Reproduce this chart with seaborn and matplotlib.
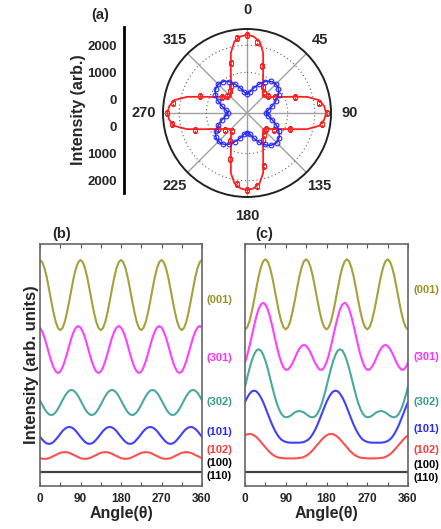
import numpy as np
import matplotlib
matplotlib.use('Agg')
import matplotlib.pyplot as plt
import matplotlib.transforms as mtransforms
import seaborn as sns

# ---------------- panel (a): polar data ----------------
polar_theta = list(range(0, 360, 5))
red_fit = [2390, 2330, 2180, 1800, 1250, 900, 690, 530, 420, 340, 420, 530, 690, 900, 1250, 1800, 2210, 2360,
           2420, 2360, 2210, 1800, 1250, 900, 690, 530, 420, 340, 420, 530, 690, 900, 1250, 1800, 2140, 2290,
           2350, 2290, 2140, 1800, 1250, 900, 690, 530, 420, 340, 420, 530, 690, 900, 1250, 1800, 2230, 2380,
           2440, 2380, 2230, 1800, 1250, 900, 690, 530, 420, 340, 420, 530, 690, 900, 1250, 1800, 2180, 2330]
blue_fit = [200, 240, 330, 450, 580, 720, 840, 930, 990, 1010, 990, 930, 840, 720, 580, 450, 330, 240,
            200, 240, 340, 460, 600, 740, 860, 960, 1020, 1040, 1020, 960, 860, 740, 600, 460, 340, 240,
            210, 250, 330, 450, 570, 710, 830, 920, 970, 980, 970, 920, 830, 710, 570, 450, 330, 250,
            200, 240, 330, 450, 580, 720, 840, 930, 980, 1000, 980, 930, 840, 720, 580, 450, 330, 240]

red_pts_theta = [0, 8, 18, 32, 40, 52, 60, 72, 82, 90, 98, 110, 122, 130, 142, 150, 162, 172,
                 180, 188, 200, 212, 220, 232, 242, 252, 262, 270, 278, 290, 302, 310, 322, 330, 342, 352]
red_pts_r = [2370, 2150, 1330, 640, 450, 500, 700, 1380, 2200, 2440, 2300, 1180, 660, 400, 520, 650, 1550, 2230,
             2330, 2150, 1300, 700, 380, 520, 720, 1500, 2300, 2450, 2250, 1330, 580, 450, 540, 660, 1450, 2280]
blue_pts_theta = [i * 7.5 for i in range(48)]
blue_pts_r = [210, 290, 440, 670, 830, 970, 1000, 950, 850, 640, 460, 280,
              190, 300, 460, 660, 860, 990, 1040, 980, 830, 650, 440, 290,
              220, 280, 450, 640, 830, 950, 980, 960, 840, 660, 450, 270,
              200, 290, 450, 650, 850, 960, 1000, 950, 830, 660, 440, 300]

left_ticks = [2500, 1500, 500, -500, -1500, -2500]
left_ticklabels = ['2000', '1000', '0', '0', '1000', '2000']
theta_labels = ['0', '45', '90', '135', '180', '225', '270', '315']

# ---------------- panels (b) and (c) ----------------
angles = list(range(0, 365, 5))
series_names = ['(001)', '(301)', '(302)', '(101)', '(102)', '(100)', '(110)']
series_colors = ['#a8a03a', '#ff40ff', '#4aa8a0', '#4040ff', '#ff5050', '#404040', '#404040']
label_colors = ['#9a9228', '#ff30ff', '#3a9a92', '#2a2aff', '#ff3a3a', '#000000', '#000000']

b_001 = [9.34, 9.25, 9.00, 8.62, 8.14, 7.64, 7.17, 6.78, 6.53, 6.44, 6.53, 6.78, 7.17, 7.64, 8.14, 8.62, 9.00, 9.25,
         9.34, 9.25, 9.00, 8.62, 8.14, 7.64, 7.17, 6.78, 6.53, 6.44, 6.53, 6.78, 7.17, 7.64, 8.14, 8.62, 9.00, 9.25,
         9.34, 9.25, 9.00, 8.62, 8.14, 7.64, 7.17, 6.78, 6.53, 6.44, 6.53, 6.78, 7.17, 7.64, 8.14, 8.62, 9.00, 9.25,
         9.34, 9.25, 9.00, 8.62, 8.14, 7.64, 7.17, 6.78, 6.53, 6.44, 6.53, 6.78, 7.17, 7.64, 8.14, 8.62, 9.00, 9.25,
         9.34]
b_301 = [6.55, 6.38, 6.13, 5.81, 5.47, 5.16, 4.90, 4.73, 4.67, 4.73, 4.90, 5.16, 5.47, 5.81, 6.13, 6.38, 6.55, 6.61,
         6.55, 6.38, 6.13, 5.81, 5.47, 5.16, 4.90, 4.73, 4.67, 4.73, 4.90, 5.16, 5.47, 5.81, 6.13, 6.38, 6.55, 6.61,
         6.55, 6.38, 6.13, 5.81, 5.47, 5.16, 4.90, 4.73, 4.67, 4.73, 4.90, 5.16, 5.47, 5.81, 6.13, 6.38, 6.55, 6.61,
         6.55, 6.38, 6.13, 5.81, 5.47, 5.16, 4.90, 4.73, 4.67, 4.73, 4.90, 5.16, 5.47, 5.81, 6.13, 6.38, 6.55, 6.61,
         6.55]
b_302 = [3.54, 3.36, 3.19, 3.05, 2.96, 2.93, 2.96, 3.05, 3.19, 3.36, 3.54, 3.71, 3.85, 3.94, 3.97, 3.94, 3.85, 3.71,
         3.54, 3.36, 3.19, 3.05, 2.96, 2.93, 2.96, 3.05, 3.19, 3.36, 3.54, 3.71, 3.85, 3.94, 3.97, 3.94, 3.85, 3.71,
         3.54, 3.36, 3.19, 3.05, 2.96, 2.93, 2.96, 3.05, 3.19, 3.36, 3.54, 3.71, 3.85, 3.94, 3.97, 3.94, 3.85, 3.71,
         3.54, 3.36, 3.19, 3.05, 2.96, 2.93, 2.96, 3.05, 3.19, 3.36, 3.54, 3.71, 3.85, 3.94, 3.97, 3.94, 3.85, 3.71,
         3.54]
b_101 = [2.03, 1.92, 1.82, 1.76, 1.74, 1.76, 1.82, 1.92, 2.03, 2.15, 2.27, 2.36, 2.42, 2.44, 2.42, 2.36, 2.27, 2.15,
         2.03, 1.92, 1.82, 1.76, 1.74, 1.76, 1.82, 1.92, 2.03, 2.15, 2.27, 2.36, 2.42, 2.44, 2.42, 2.36, 2.27, 2.15,
         2.03, 1.92, 1.82, 1.76, 1.74, 1.76, 1.82, 1.92, 2.03, 2.15, 2.27, 2.36, 2.42, 2.44, 2.42, 2.36, 2.27, 2.15,
         2.03, 1.92, 1.82, 1.76, 1.74, 1.76, 1.82, 1.92, 2.03, 2.15, 2.27, 2.36, 2.42, 2.44, 2.42, 2.36, 2.27, 2.15,
         2.03]
b_102 = [1.15, 1.13, 1.12, 1.13, 1.15, 1.19, 1.24, 1.28, 1.33, 1.37, 1.39, 1.40, 1.39, 1.37, 1.33, 1.28, 1.24, 1.19,
         1.15, 1.13, 1.12, 1.13, 1.15, 1.19, 1.24, 1.28, 1.33, 1.37, 1.39, 1.40, 1.39, 1.37, 1.33, 1.28, 1.24, 1.19,
         1.15, 1.13, 1.12, 1.13, 1.15, 1.19, 1.24, 1.28, 1.33, 1.37, 1.39, 1.40, 1.39, 1.37, 1.33, 1.28, 1.24, 1.19,
         1.15, 1.13, 1.12, 1.13, 1.15, 1.19, 1.24, 1.28, 1.33, 1.37, 1.39, 1.40, 1.39, 1.37, 1.33, 1.28, 1.24, 1.19,
         1.15]
b_100 = [0.58] * 73
b_110 = [0.58] * 73

c_001 = [6.47, 6.56, 6.81, 7.20, 7.67, 8.17, 8.65, 9.03, 9.28, 9.37, 9.28, 9.03, 8.65, 8.17, 7.67, 7.20, 6.81, 6.56,
         6.47, 6.56, 6.81, 7.20, 7.67, 8.17, 8.65, 9.03, 9.28, 9.37, 9.28, 9.03, 8.65, 8.17, 7.67, 7.20, 6.81, 6.56,
         6.47, 6.56, 6.81, 7.20, 7.67, 8.17, 8.65, 9.03, 9.28, 9.37, 9.28, 9.03, 8.65, 8.17, 7.67, 7.20, 6.81, 6.56,
         6.47, 6.56, 6.81, 7.20, 7.67, 8.17, 8.65, 9.03, 9.28, 9.37, 9.28, 9.03, 8.65, 8.17, 7.67, 7.20, 6.81, 6.56,
         6.47]
c_301 = [5.11, 5.41, 5.79, 6.20, 6.62, 7.00, 7.31, 7.50, 7.57, 7.50, 7.31, 7.00, 6.62, 6.20, 5.79, 5.41, 5.11, 4.90,
         4.80, 4.81, 4.92, 5.08, 5.29, 5.50, 5.67, 5.79, 5.83, 5.79, 5.67, 5.50, 5.29, 5.08, 4.92, 4.81, 4.80, 4.90,
         5.11, 5.41, 5.79, 6.20, 6.62, 7.00, 7.31, 7.50, 7.57, 7.50, 7.31, 7.00, 6.62, 6.20, 5.79, 5.41, 5.11, 4.90,
         4.80, 4.81, 4.92, 5.08, 5.29, 5.50, 5.67, 5.79, 5.83, 5.79, 5.67, 5.50, 5.29, 5.08, 4.92, 4.81, 4.80, 4.90,
         5.11]
c_302 = [4.11, 4.49, 4.86, 5.18, 5.43, 5.60, 5.65, 5.60, 5.43, 5.18, 4.86, 4.49, 4.11, 3.75, 3.43, 3.18, 2.99, 2.88,
         2.84, 2.85, 2.90, 2.97, 3.04, 3.08, 3.10, 3.08, 3.04, 2.97, 2.90, 2.85, 2.84, 2.88, 2.99, 3.18, 3.43, 3.75,
         4.11, 4.49, 4.86, 5.18, 5.43, 5.60, 5.65, 5.60, 5.43, 5.18, 4.86, 4.49, 4.11, 3.75, 3.43, 3.18, 2.99, 2.88,
         2.84, 2.85, 2.90, 2.97, 3.04, 3.08, 3.10, 3.08, 3.04, 2.97, 2.90, 2.85, 2.84, 2.88, 2.99, 3.18, 3.43, 3.75,
         4.11]
c_101 = [3.47, 3.66, 3.81, 3.91, 3.94, 3.91, 3.81, 3.66, 3.47, 3.24, 3.00, 2.76, 2.53, 2.33, 2.16, 2.02, 1.92, 1.86,
         1.82, 1.80, 1.79, 1.79, 1.79, 1.79, 1.79, 1.80, 1.82, 1.86, 1.92, 2.02, 2.16, 2.33, 2.53, 2.76, 3.00, 3.24,
         3.47, 3.66, 3.81, 3.91, 3.94, 3.91, 3.81, 3.66, 3.47, 3.24, 3.00, 2.76, 2.53, 2.33, 2.16, 2.02, 1.92, 1.86,
         1.82, 1.80, 1.79, 1.79, 1.79, 1.79, 1.79, 1.80, 1.82, 1.86, 1.92, 2.02, 2.16, 2.33, 2.53, 2.76, 3.00, 3.24,
         3.47]
c_102 = [2.09, 2.14, 2.15, 2.14, 2.09, 2.02, 1.93, 1.82, 1.71, 1.60, 1.49, 1.39, 1.31, 1.25, 1.20, 1.17, 1.16, 1.15,
         1.14, 1.14, 1.14, 1.14, 1.14, 1.15, 1.16, 1.17, 1.20, 1.25, 1.31, 1.39, 1.49, 1.60, 1.71, 1.82, 1.93, 2.02,
         2.09, 2.14, 2.15, 2.14, 2.09, 2.02, 1.93, 1.82, 1.71, 1.60, 1.49, 1.39, 1.31, 1.25, 1.20, 1.17, 1.16, 1.15,
         1.14, 1.14, 1.14, 1.14, 1.14, 1.15, 1.16, 1.17, 1.20, 1.25, 1.31, 1.39, 1.49, 1.60, 1.71, 1.82, 1.93, 2.02,
         2.09]
c_100 = [0.58] * 73
c_110 = [0.58] * 73

# label heights (data units) at the right of each panel
b_label_y = [7.69, 5.29, 3.47, 2.23, 1.49, 0.93, 0.42]
c_label_y = [8.10, 5.33, 3.47, 2.36, 1.49, 0.85, 0.34]

sns.set_style('white')
plt.rcParams['font.family'] = ['Liberation Sans', 'DejaVu Sans']
plt.rcParams['font.weight'] = 'bold'
plt.rcParams['axes.labelweight'] = 'bold'

fig = plt.figure(figsize=(4.41, 5.29), dpi=100)

# ---- (a) polar plot
ax_p = fig.add_axes([0.3696, 0.6276, 0.381, 0.3176], projection='polar')
ax_p.set_theta_zero_location('N')
ax_p.set_theta_direction(-1)
th_line = np.deg2rad(polar_theta + [360])
sns.lineplot(x=th_line, y=red_fit + red_fit[:1], ax=ax_p, color='#ff2020', lw=1.3, sort=False, legend=False)
sns.lineplot(x=th_line, y=blue_fit + blue_fit[:1], ax=ax_p, color='#2828ff', lw=1.1, sort=False, legend=False)
ax_p.plot(np.deg2rad(red_pts_theta), red_pts_r, linestyle='none', marker='s', markersize=3.4,
          markerfacecolor='none', markeredgecolor='#ff2020', markeredgewidth=0.8)
ax_p.plot(np.deg2rad(blue_pts_theta), blue_pts_r, linestyle='none', marker='o', markersize=3.4,
          markerfacecolor='none', markeredgecolor='#2828ff', markeredgewidth=0.8)
ax_p.set_ylim(-500, 2600)
ax_p.set_thetagrids(range(0, 360, 45), labels=theta_labels, fontsize=10.5, fontweight='bold')
ax_p.set_rgrids([1000, 2000], labels=['', ''])
ax_p.xaxis.grid(True, color='#a0a0a0', lw=1.0, ls='-')
ax_p.yaxis.grid(True, color='#606060', lw=0.8, ls=(0, (1, 2.5)))
ax_p.spines['polar'].set_color('#222222')
ax_p.spines['polar'].set_linewidth(1.4)
ax_p.tick_params(axis='x', pad=3)
ax_p.set_xlabel('')
ax_p.set_ylabel('')

# left intensity axis of (a)
ax_l = fig.add_axes([124 / 441, (529 - 193) / 529, 0.02, 166 / 529])
ax_l.set_ylim(-2952, 3174)
ax_l.set_yticks(left_ticks)
ax_l.set_yticklabels(left_ticklabels, fontsize=9.5, fontweight='bold')
ax_l.set_xticks([])
for s in ['top', 'right', 'bottom']:
    ax_l.spines[s].set_visible(False)
ax_l.spines['left'].set_linewidth(2.0)
ax_l.spines['left'].set_color('black')
ax_l.tick_params(axis='y', length=0, pad=5)
ax_l.patch.set_alpha(0)
ax_l.set_ylabel('Intensity (arb.)', fontsize=11.5, fontweight='bold', labelpad=1)
fig.text(100 / 441, 1 - 15 / 529, '(a)', fontsize=10.5, fontweight='bold', ha='center', va='center')


def draw_panel(ax, curves, label_y, x_off):
    for vals, col in zip(curves, series_colors):
        sns.lineplot(x=angles, y=vals, ax=ax, color=col, lw=1.5, legend=False)
    ax.set_xlim(0, 360)
    ax.set_ylim(0, 10)
    ax.set_yticks([])
    ax.set_xticks([0, 90, 180, 270, 360])
    ax.set_xticks([45, 135, 225, 315], minor=True)
    ax.tick_params(axis='x', which='both', direction='in', top=True, bottom=True,
                   length=3, width=0.8, color='#555555', labelsize=8.5, pad=5)
    for s in ax.spines.values():
        s.set_color('#666666')
        s.set_linewidth(1.2)
    ax.set_xlabel('Angle(θ)', fontsize=11.5, fontweight='bold', labelpad=1)
    ax.set_ylabel('')
    trans = mtransforms.blended_transform_factory(ax.transAxes, ax.transData)
    for name, yy, col in zip(series_names, label_y, label_colors):
        ax.text(x_off, yy, name, transform=trans, color=col, fontsize=8, fontweight='bold',
                ha='left', va='center', clip_on=False)


ax_b = fig.add_axes([40 / 441, (529 - 486) / 529, 162 / 441, 242 / 529])
draw_panel(ax_b, [b_001, b_301, b_302, b_101, b_102, b_100, b_110], b_label_y, 1.03)
ax_b.set_ylabel('Intensity (arb. units)', fontsize=12, fontweight='bold', labelpad=1)

ax_c = fig.add_axes([245 / 441, (529 - 486) / 529, 163 / 441, 242 / 529])
draw_panel(ax_c, [c_001, c_301, c_302, c_101, c_102, c_100, c_110], c_label_y, 1.035)

fig.text(62 / 441, 1 - 234 / 529, '(b)', fontsize=10.5, fontweight='bold', ha='center', va='center')
fig.text(264 / 441, 1 - 234 / 529, '(c)', fontsize=10.5, fontweight='bold', ha='center', va='center')

fig.savefig('out.png', dpi=100)
